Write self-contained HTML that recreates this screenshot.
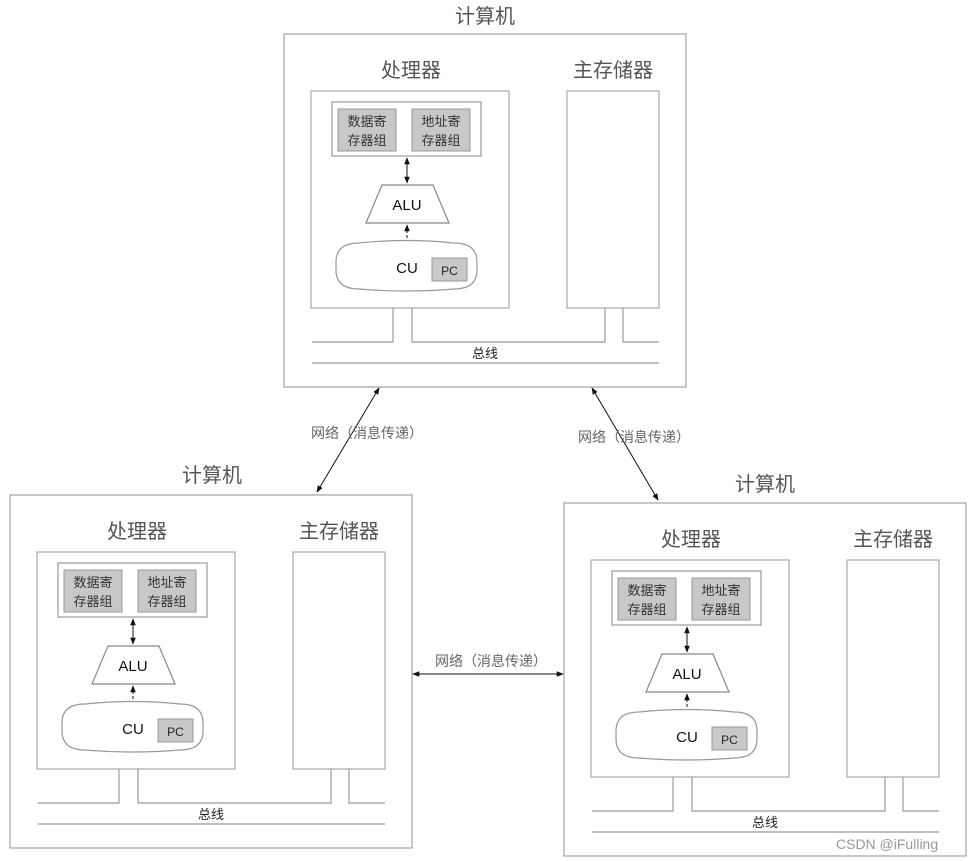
<!DOCTYPE html>
<html><head><meta charset="utf-8"><style>
html,body{margin:0;padding:0;background:#fff;}
svg{display:block;font-family:"Liberation Sans","Noto Sans CJK SC",sans-serif;}
</style></head><body>
<svg width="972" height="861" viewBox="0 0 972 861" xmlns="http://www.w3.org/2000/svg">
<defs>
<marker id="ah" viewBox="0 0 10 10" refX="9" refY="5" markerWidth="7" markerHeight="7" orient="auto-start-reverse"><path d="M0,1 L10,5 L0,9 z" fill="#111"/></marker>
<g id="comp">
  <rect x="0" y="0" width="402" height="353" fill="#fff" stroke="#aaa" stroke-width="1.3"/>
  <text x="127" y="43" font-size="20" fill="#555" text-anchor="middle">处理器</text>
  <text x="329" y="43" font-size="20" fill="#555" text-anchor="middle">主存储器</text>
  <rect x="27" y="57" width="198" height="217" fill="#fff" stroke="#aaa" stroke-width="1.2"/>
  <rect x="48" y="68" width="149" height="54" fill="#fff" stroke="#999" stroke-width="1.2"/>
  <rect x="54" y="75" width="58" height="42" fill="#c8c8c8" stroke="#999"/>
  <rect x="128" y="75" width="58" height="42" fill="#c8c8c8" stroke="#999"/>
  <text x="83" y="92" font-size="13" fill="#333" text-anchor="middle">数据寄</text>
  <text x="83" y="111" font-size="13" fill="#333" text-anchor="middle">存器组</text>
  <text x="157" y="92" font-size="13" fill="#333" text-anchor="middle">地址寄</text>
  <text x="157" y="111" font-size="13" fill="#333" text-anchor="middle">存器组</text>
  <line x1="123" y1="124" x2="123" y2="149" stroke="#111" stroke-width="1" marker-start="url(#ah)" marker-end="url(#ah)"/>
  <polygon points="98,151 149,151 165,189 82,189" fill="#fff" stroke="#888" stroke-width="1.2"/>
  <text x="123" y="176" font-size="15" fill="#111" text-anchor="middle">ALU</text>
  <line x1="123" y1="209" x2="123" y2="191" stroke="#111" stroke-width="1" stroke-dasharray="3,2" marker-end="url(#ah)"/>
  <path d="M52,228 Q52,209 75,209 Q123,204 170,209 Q193,209 193,228 L193,236 Q193,255 170,255 Q123,259 75,255 Q52,255 52,236 Z" fill="#fff" stroke="#999" stroke-width="1.2"/>
  <text x="123" y="239" font-size="15" fill="#111" text-anchor="middle">CU</text>
  <rect x="148" y="224" width="35" height="23" fill="#c8c8c8" stroke="#999"/>
  <text x="165.5" y="241" font-size="12" fill="#222" text-anchor="middle">PC</text>
  <rect x="283" y="57" width="92" height="217" fill="#fff" stroke="#aaa" stroke-width="1.2"/>
  <g stroke="#999" stroke-width="1.2" fill="none">
    <polyline points="28,308 109,308 109,274"/>
    <polyline points="128,274 128,308 321,308 321,274"/>
    <polyline points="339,274 339,308 375,308"/>
    <line x1="28" y1="329" x2="375" y2="329"/>
  </g>
  <text x="201" y="324" font-size="13" fill="#222" text-anchor="middle">总线</text>
</g>
</defs>
<text x="485" y="23" font-size="20" fill="#555" text-anchor="middle">计算机</text>
<use href="#comp" x="284" y="34"/>
<text x="212" y="482" font-size="20" fill="#555" text-anchor="middle">计算机</text>
<use href="#comp" x="10" y="495"/>
<text x="765" y="491" font-size="20" fill="#555" text-anchor="middle">计算机</text>
<use href="#comp" x="564" y="503"/>
<line x1="379" y1="388" x2="317" y2="492" stroke="#111" stroke-width="1" marker-start="url(#ah)" marker-end="url(#ah)"/>
<line x1="592" y1="388" x2="658" y2="500" stroke="#111" stroke-width="1" marker-start="url(#ah)" marker-end="url(#ah)"/>
<line x1="413" y1="674" x2="563" y2="674" stroke="#111" stroke-width="1" marker-start="url(#ah)" marker-end="url(#ah)"/>
<g font-size="14" fill="#666">
<text x="311" y="438">网络（消息传递）</text>
<text x="578" y="442">网络（消息传递）</text>
<text x="435" y="666">网络（消息传递）</text>
</g>
<text x="836" y="849" font-size="14" fill="#999">CSDN @iFulling</text>
</svg>
</body></html>
